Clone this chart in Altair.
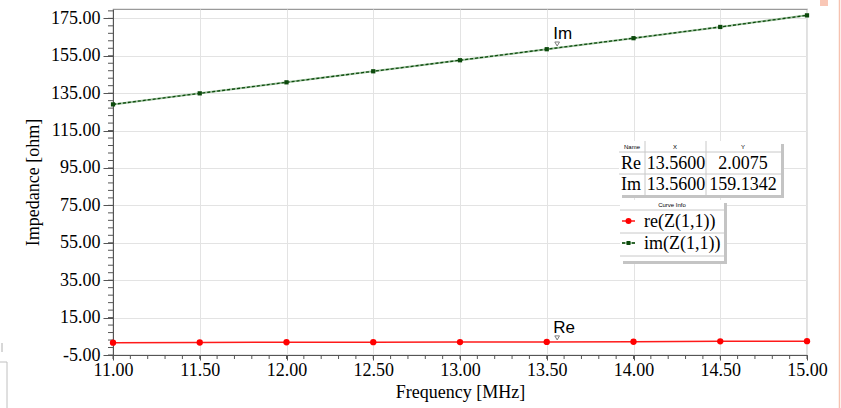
import altair as alt
import pandas as pd
import numpy as np

# ---- data ----
freq = [11.0, 11.5, 12.0, 12.5, 13.0, 13.5, 14.0, 14.5, 15.0]
re_vals = [1.6, 1.7, 1.8, 1.85, 1.9, 2.0, 2.1, 2.3, 2.4]
im_vals = [129.0, 134.9, 140.8, 146.7, 152.6, 158.5, 164.4, 170.4, 176.6]

x_ticks = [11.0, 11.5, 12.0, 12.5, 13.0, 13.5, 14.0, 14.5, 15.0]
y_ticks = [-5, 15, 35, 55, 75, 95, 115, 135, 155, 175]
x_minor = [round(v, 2) for v in np.arange(11.0, 15.001, 0.1)]
y_minor = [int(v) for v in np.arange(-5, 180, 4)]

marker_x = 13.56
marker_re = 2.0075
marker_im = 159.1342
marker_names = ["Re", "Im"]
table_xs = ["13.5600", "13.5600"]
table_ys = ["2.0075", "159.1342"]
legend_labels = ["re(Z(1,1))", "im(Z(1,1))"]

SERIF = "Liberation Serif"
SANS = "Liberation Sans"
W, H = 694, 346

df = pd.DataFrame({"f": freq, "re": re_vals, "im": im_vals})

xscale = alt.Scale(domain=[11, 15], nice=False, zero=False)
yscale = alt.Scale(domain=[-5, 180], nice=False, zero=False)

xaxis = alt.Axis(values=x_ticks, format=".2f", title="Frequency [MHz]",
                 labelFont=SERIF, labelFontSize=18, titleFont=SERIF, titleFontSize=18,
                 titleFontWeight="normal", labelColor="black", titleColor="black",
                 tickSize=5, tickColor="#555", domainColor="#555", labelPadding=1,
                 titlePadding=4, gridColor="#e3e3e3", labelFlush=False, labelOverlap=False)
yaxis = alt.Axis(values=y_ticks, format=".2f", title="Impedance [ohm]",
                 labelExpr="replace(datum.label, '\u2212', '-')",
                 labelFont=SERIF, labelFontSize=18, titleFont=SERIF, titleFontSize=18,
                 titleFontWeight="normal", labelColor="black", titleColor="black",
                 tickSize=10, tickColor="#555", domainColor="#555", labelPadding=3,
                 titlePadding=8, gridColor="#e3e3e3", labelFlush=False, labelOverlap=False)


def X(field):
    return alt.X(f"{field}:Q", scale=xscale, axis=xaxis)


def Y(field):
    return alt.Y(f"{field}:Q", scale=yscale, axis=yaxis)


dummy = alt.Data(values=[{"a": 1}])

# minor ticks
xminor_layer = alt.Chart(pd.DataFrame({"f": x_minor})).mark_rule(color="#555", strokeWidth=1).encode(
    x=X("f"), y=alt.value(H), y2=alt.value(H + 4))
ymin_df = pd.DataFrame({"v": y_minor})
yminor_layer = alt.Chart(ymin_df).mark_rule(color="#555", strokeWidth=1).encode(
    y=Y("v"), x=alt.value(-5), x2=alt.value(0))

base = alt.Chart(df)
im_under = base.mark_line(color="#9dc09d", strokeWidth=2).encode(x=X("f"), y=Y("im"))
im_line = base.mark_line(color="#0c4a0c", strokeWidth=1.3, strokeDash=[3, 2]).encode(x=X("f"), y=Y("im"))
im_pts = base.mark_point(shape="square", filled=True, color="#0c4a0c", size=18, opacity=1).encode(
    x=X("f"), y=Y("im"))
re_line = base.mark_line(color="#ff1a1a", strokeWidth=1.5).encode(x=X("f"), y=Y("re"))
re_pts = base.mark_point(shape="circle", filled=True, color="#ff0000", size=40, opacity=1).encode(
    x=X("f"), y=Y("re"))

mk_df = pd.DataFrame({"f": [marker_x, marker_x], "v": [marker_re, marker_im], "name": marker_names})
mk_tri = alt.Chart(mk_df).mark_point(shape="triangle-down", filled=False, stroke="#444",
                                      strokeWidth=1, size=22, yOffset=-4).encode(x=X("f"), y=Y("v"))
mk_txt = alt.Chart(mk_df).mark_text(font=SANS, fontSize=17, align="left", baseline="alphabetic",
                                     dx=-4, dy=-9, color="black").encode(x=X("f"), y=Y("v"), text="name:N")

OX, OY = 113, 9  # plot origin on the page


def rect(x1, y1, x2, y2, fill="white", stroke=None, sw=1, opacity=1):
    kw = dict(fill=fill, opacity=opacity)
    if stroke:
        kw.update(stroke=stroke, strokeWidth=sw)
    return alt.Chart(dummy).mark_rect(**kw).encode(
        x=alt.value(x1 - OX), x2=alt.value(x2 - OX), y=alt.value(y1 - OY), y2=alt.value(y2 - OY))


def hline(x1, x2, y, color="#c8c8c8", sw=1, dash=None):
    kw = dict(color=color, strokeWidth=sw)
    if dash:
        kw["strokeDash"] = dash
    return alt.Chart(dummy).mark_rule(**kw).encode(
        x=alt.value(x1 - OX), x2=alt.value(x2 - OX), y=alt.value(y - OY))


def vline(x, y1, y2, color="#c8c8c8", sw=1):
    return alt.Chart(dummy).mark_rule(color=color, strokeWidth=sw).encode(
        x=alt.value(x - OX), y=alt.value(y1 - OY), y2=alt.value(y2 - OY))


def text(t, x, y, size=18, font=SERIF, align="center", color="black"):
    return alt.Chart(dummy).mark_text(text=t, font=font, fontSize=size, align=align,
                                      baseline="middle", color=color).encode(
        x=alt.value(x - OX), y=alt.value(y - OY))


def dot(x, y, shape, color, size):
    return alt.Chart(dummy).mark_point(shape=shape, filled=True, color=color, size=size, opacity=1).encode(
        x=alt.value(x - OX), y=alt.value(y - OY))


extras = []
# marker table
extras += [rect(622, 144, 784, 198, fill="#c4c4c4"),
           rect(619, 141, 781, 195, fill="white"),
           hline(619, 781, 152), hline(619, 781, 174),
           vline(645, 141, 195), vline(706, 141, 195),
           text("Name", 632, 146.5, size=6, font=SANS),
           text("X", 675, 146.5, size=6, font=SANS),
           text("Y", 743, 146.5, size=6, font=SANS)]
for i, (nm, xv, yv) in enumerate(zip(marker_names, table_xs, table_ys)):
    cy = 163.5 + i * 21.5
    extras += [text(nm, 621, cy, align="left"), text(xv, 676, cy), text(yv, 743, cy)]

# curve info legend
extras += [rect(623, 203, 727, 264, fill="#c4c4c4"),
           rect(620, 200, 724, 261, fill="white"),
           hline(620, 724, 210), hline(620, 724, 233), hline(620, 724, 256),
           text("Curve Info", 672, 205, size=6, font=SANS),
           hline(622, 635, 221, color="#ff1a1a", sw=1.5),
           dot(628.5, 221, "circle", "#ff0000", 36),
           hline(622, 635, 243, color="#9dc09d", sw=2),
           hline(622, 635, 243, color="#0c4a0c", sw=1.3, dash=[3, 2]),
           dot(628.5, 243, "square", "#0c4a0c", 16)]
for i, lab in enumerate(legend_labels):
    extras.append(text(lab, 644, 221.5 + i * 22.5, align="left"))

# window decorations at the edges
extras += [rect(820, 0, 828, 6, fill="#f9c7b6"),
           vline(839.5, 0, 408, color="#f6c2b0", sw=1.5),
           rect(-2, 362, 7, 412, fill="white", stroke="#c0c0c0"),
           vline(2, 343, 352, color="#b0b0b0")]

chart = alt.layer(
    xminor_layer, yminor_layer,
    im_under, im_line, im_pts, re_line, re_pts,
    mk_tri, mk_txt, *extras
).properties(
    width=W, height=H,
    autosize=alt.AutoSizeParams(type="none"),
    padding={"left": OX, "top": OY, "right": 841 - OX - W, "bottom": 408 - OY - H},
    background="white"
).configure_view(stroke="#9a9a9a", strokeWidth=1.2)

chart.save("out.html", embed_options={"renderer": "svg", "actions": False})
